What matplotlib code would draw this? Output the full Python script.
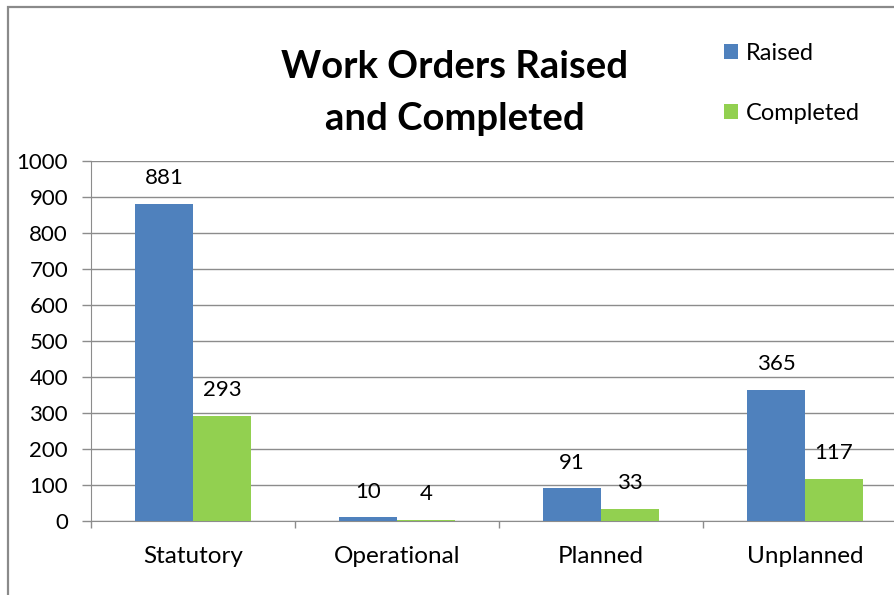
import matplotlib.pyplot as plt
import matplotlib.patches as patches
import numpy as np

# Work order counts per category
categories = ["Statutory", "Operational", "Planned", "Unplanned"]
raised = [881, 10, 91, 365]
completed = [293, 4, 33, 117]

blue = "#4F81BD"
green = "#92D050"
grid_grey = "#8C8C8C"

plt.rcParams['font.family'] = ['Lato', 'DejaVu Sans']

fig = plt.figure(figsize=(8.94, 5.95), dpi=100)
W, H = 894, 595

# chart area border (runs off the right and bottom edges)
fig.patches.append(patches.Rectangle((8 / W, -0.05), 1.2, (595 - 7) / H + 0.05,
                                     transform=fig.transFigure, fill=False,
                                     edgecolor="#8A8A8A", linewidth=1.6, zorder=0))

ax = fig.add_axes([91 / W, (595 - 521) / H, (907 - 91) / W, (521 - 161) / H])

x = np.arange(len(categories))
width = 0.284
b1 = ax.bar(x - width / 2, raised, width, color=blue, label="Raised", zorder=3)
b2 = ax.bar(x + width / 2, completed, width, color=green, label="Completed", zorder=3)

# value labels above bars
for bars, vals in ((b1, raised), (b2, completed)):
    for rect, v in zip(bars, vals):
        ax.annotate(str(v), (rect.get_x() + rect.get_width() / 2, v),
                    xytext=(0, 18.5), textcoords="offset points",
                    ha="center", va="center", fontsize=16, color="black")

ax.set_xlim(-0.5, len(categories) - 0.5)
ax.set_ylim(0, 1000)
ax.set_yticks(np.arange(0, 1001, 100))
ax.yaxis.grid(True, color=grid_grey, linewidth=1.0, zorder=0)
ax.set_axisbelow(True)

ax.set_xticks(x)
ax.set_xticklabels(categories, fontsize=17.5)
ax.set_xticks(np.arange(-0.5, len(categories) + 0.5, 1), minor=True)
ax.tick_params(axis="x", which="major", length=0, pad=18)
ax.tick_params(axis="x", which="minor", length=5, color=grid_grey, width=1)
ax.tick_params(axis="y", length=6.5, color=grid_grey, width=1, labelsize=16, pad=10)

for side in ("top", "right"):
    ax.spines[side].set_visible(False)
ax.spines["left"].set_color(grid_grey)
ax.spines["bottom"].set_color(grid_grey)

# two-line title
fig.text(455 / W, 1 - 67 / H, "Work Orders Raised",
         ha="center", va="center", fontsize=27.5, fontweight="bold")
fig.text(455 / W, 1 - 119 / H, "and Completed",
         ha="center", va="center", fontsize=27.5, fontweight="bold")

fig.legend(handles=[b1, b2], labels=["Raised", "Completed"],
           loc="upper left", bbox_to_anchor=(703 / W, 1 - 22 / H),
           frameon=False, fontsize=17, handlelength=0.6, handleheight=0.6,
           handletextpad=0.3, labelspacing=1.65)

fig.savefig("out.png", dpi=100)
